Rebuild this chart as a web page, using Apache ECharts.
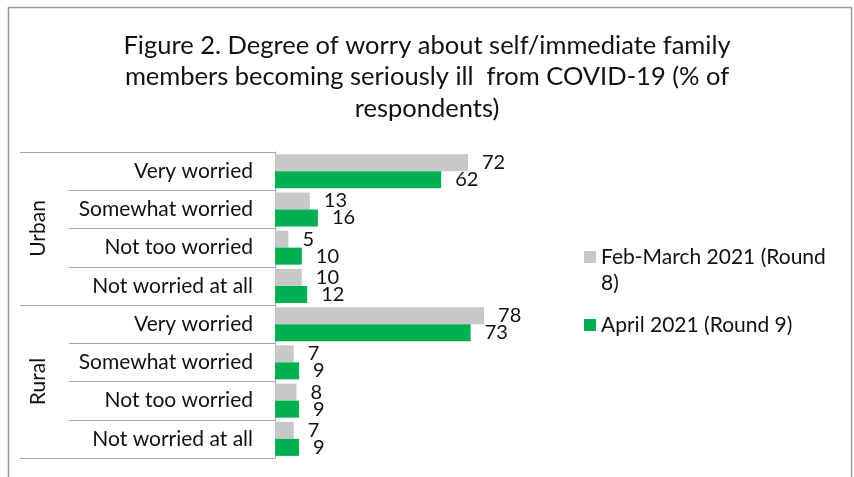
<!DOCTYPE html>
<html>
<head>
<meta charset="utf-8">
<script src="https://cdn.jsdelivr.net/npm/echarts@6/dist/echarts.min.js"></script>
<style>
  html, body { margin: 0; padding: 0; background: #fff; }
  #main { width: 854px; height: 477px; }
</style>
</head>
<body>
<div id="main"></div>
<script>
// data
const groups = ['Urban', 'Rural']
const levels = ['Very worried', 'Somewhat worried', 'Not too worried', 'Not worried at all']
const round8Name = 'Feb-March 2021 (Round 8)'
const round9Name = 'April 2021 (Round 9)'
const round8 = [72, 13, 5, 10, 78, 7, 8, 7]
const round9 = [62, 16, 10, 12, 73, 9, 9, 9]

// one category per group/level pair
const categories = []
groups.forEach(function (g) {
  levels.forEach(function (l) { categories.push(g + '|' + l) })
})

const font = 'Lato, "Open Sans", sans-serif'
const gridLine = '#a6a6a6'
const ink = '#111'

const chart = echarts.init(document.getElementById('main'))
chart.setOption({
  backgroundColor: '#fff',
  animation: false,
  textStyle: { fontFamily: font },
  title: {
    text: 'Figure 2. Degree of worry about self/immediate family\nmembers becoming seriously ill  from COVID-19 (% of\nrespondents)',
    left: 'center',
    top: 25,
    textStyle: { fontSize: 25.5, fontWeight: 'normal', color: ink, lineHeight: 31.5, fontFamily: font }
  },
  legend: {
    orient: 'vertical',
    left: 579,
    top: 213,
    itemWidth: 12,
    itemHeight: 12,
    itemGap: 16,
    icon: 'rect',
    // the leading empty line keeps the swatch level with the first text line
    formatter: function (name) {
      return name === round8Name ? '{e| }\n{a|Feb-March 2021 (Round}\n{a|8)}' : name
    },
    textStyle: {
      fontSize: 21, color: ink, lineHeight: 26, fontFamily: font,
      rich: {
        e: { fontSize: 21, lineHeight: 26 },
        a: { fontSize: 21, lineHeight: 26, color: ink, fontFamily: font }
      }
    },
    data: [round8Name, round9Name]
  },
  grid: { left: 275, top: 152, width: 268, height: 306 },
  xAxis: { type: 'value', min: 0, max: 100, show: false },
  yAxis: [
    {
      type: 'category',
      data: categories,
      inverse: true,
      axisLine: { show: true, lineStyle: { color: gridLine, width: 1 } },
      axisTick: { show: true, interval: 0, length: 206, lineStyle: { color: gridLine } },
      axisLabel: {
        interval: 0,
        margin: 22,
        fontSize: 21,
        color: ink,
        fontFamily: font,
        formatter: function (v) { return v.split('|')[1] }
      }
    },
    {
      type: 'category',
      data: groups,
      inverse: true,
      position: 'left',
      axisLine: { show: false },
      axisTick: { show: true, interval: 0, length: 255, lineStyle: { color: gridLine } },
      axisLabel: { rotate: 90, margin: 226, fontSize: 21, color: ink, fontFamily: font }
    }
  ],
  series: [
    {
      name: round8Name,
      type: 'bar',
      data: round8,
      barWidth: 17,
      barGap: '0%',
      itemStyle: { color: '#c8c8c8' },
      label: { show: true, position: 'right', distance: 14, fontSize: 20, color: ink, fontFamily: font }
    },
    {
      name: round9Name,
      type: 'bar',
      data: round9,
      barWidth: 17,
      barGap: '0%',
      itemStyle: { color: '#00b050' },
      label: { show: true, position: 'right', distance: 14, fontSize: 20, color: ink, fontFamily: font }
    }
  ],
  graphic: [
    {
      type: 'rect',
      silent: true,
      z: -1,
      shape: { x: 8.5, y: 7.5, width: 843, height: 500 },
      style: { fill: 'none', stroke: '#9a9a9a', lineWidth: 1.5 }
    }
  ]
})
</script>
</body>
</html>
